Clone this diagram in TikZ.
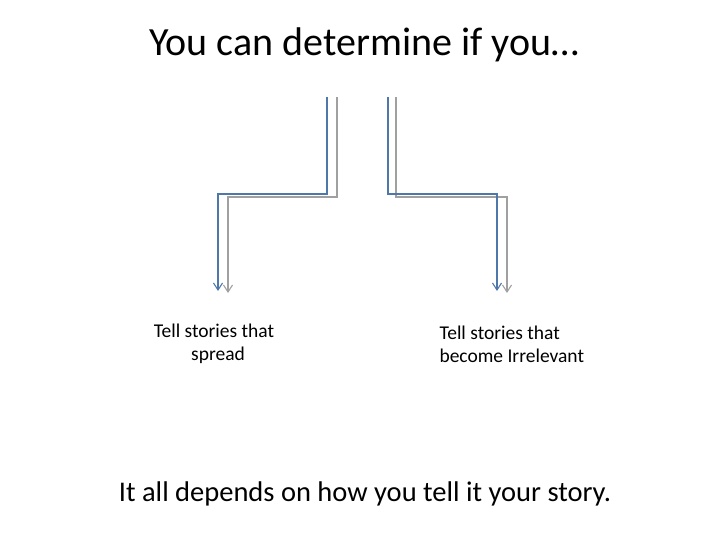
\documentclass[tikz,border=0pt]{standalone}
\usepackage{fontspec}
\setmainfont{Carlito}
\usetikzlibrary{arrows.meta}
\definecolor{bl}{RGB}{79,120,170}
\definecolor{gr}{RGB}{160,160,160}
\begin{document}
\begin{tikzpicture}[x=1pt,y=-1pt,
  conn/.style={line width=1.8pt,-{Straight Barb[length=7pt,width=9pt,line width=1.1pt]}},
  lbl/.style={font=\fontsize{19.5}{23}\selectfont,align=left}]
\useasboundingbox (0,0) rectangle (728,546);
\node (title) at (364,45) {\fontsize{40}{48}\selectfont You can determine if you…};
\coordinate (b1) at (327,97); \coordinate (b1t) at (218,291);
\coordinate (g1) at (337,97); \coordinate (g1t) at (228,293);
\coordinate (b2) at (388,97); \coordinate (b2t) at (497,291);
\coordinate (g2) at (396,97); \coordinate (g2t) at (507,293);
\draw[conn,gr] (g1) |- (228,197) -- (g1t);
\draw[conn,bl] (b1) |- (218,194) -- (b1t);
\draw[conn,gr] (g2) |- (507,197) -- (g2t);
\draw[conn,bl] (b2) |- (497,194) -- (b2t);
\node[lbl,align=center] (l1) at (214,344) {Tell stories that\\\hspace*{8pt}spread};
\node[lbl,anchor=west] (l2) at (436,344) {Tell stories that\\become Irrelevant};
\node (foot) at (365,494) {\fontsize{28.5}{34}\selectfont It all depends on how you tell it your story.};
\end{tikzpicture}
\end{document}
